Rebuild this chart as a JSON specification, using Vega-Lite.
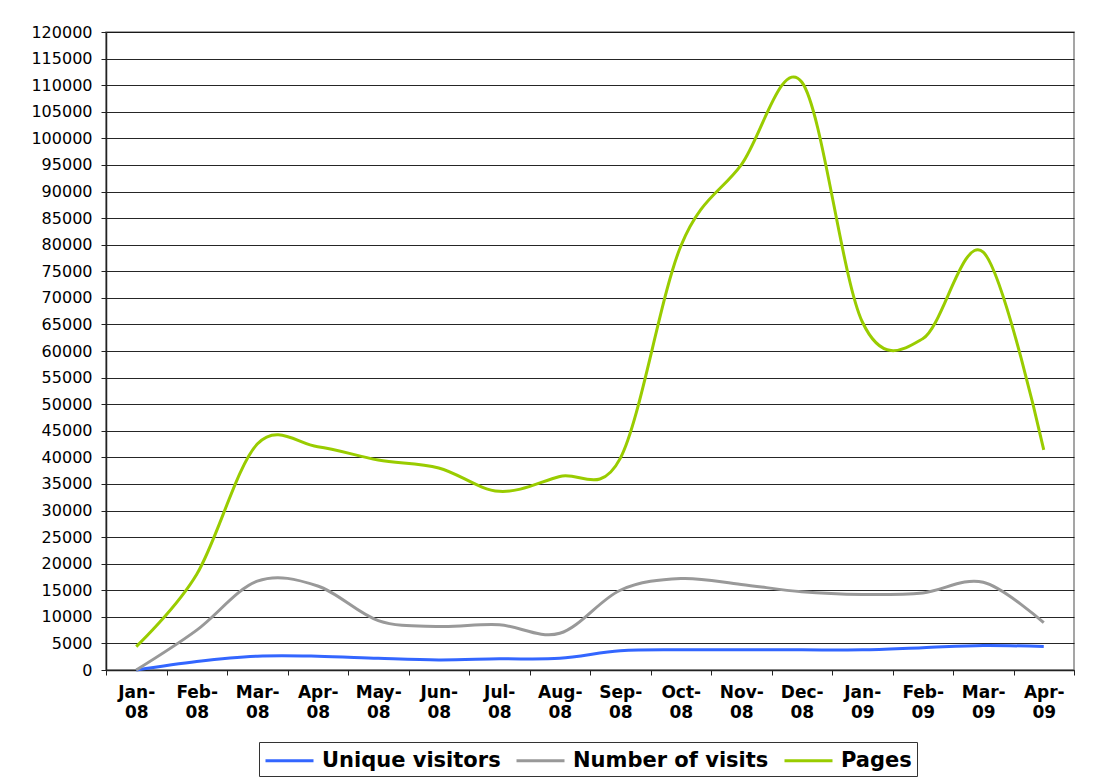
{
  "$schema": "https://vega.github.io/schema/vega-lite/v6.json",
  "width": 968,
  "height": 638,
  "autosize": "none",
  "padding": {"left": 106, "top": 32, "right": 34, "bottom": 112},
  "background": "white",
  "data": {
    "values": [
      {"month": "Jan-08", "series": "Unique visitors", "value": 0},
      {"month": "Feb-08", "series": "Unique visitors", "value": 1600},
      {"month": "Mar-08", "series": "Unique visitors", "value": 2600},
      {"month": "Apr-08", "series": "Unique visitors", "value": 2600},
      {"month": "May-08", "series": "Unique visitors", "value": 2200},
      {"month": "Jun-08", "series": "Unique visitors", "value": 1900},
      {"month": "Jul-08", "series": "Unique visitors", "value": 2100},
      {"month": "Aug-08", "series": "Unique visitors", "value": 2200},
      {"month": "Sep-08", "series": "Unique visitors", "value": 3600},
      {"month": "Oct-08", "series": "Unique visitors", "value": 3800},
      {"month": "Nov-08", "series": "Unique visitors", "value": 3800},
      {"month": "Dec-08", "series": "Unique visitors", "value": 3800},
      {"month": "Jan-09", "series": "Unique visitors", "value": 3800},
      {"month": "Feb-09", "series": "Unique visitors", "value": 4200},
      {"month": "Mar-09", "series": "Unique visitors", "value": 4600},
      {"month": "Apr-09", "series": "Unique visitors", "value": 4400},
      {"month": "Jan-08", "series": "Number of visits", "value": 0},
      {"month": "Feb-08", "series": "Number of visits", "value": 7500},
      {"month": "Mar-08", "series": "Number of visits", "value": 16700},
      {"month": "Apr-08", "series": "Number of visits", "value": 15800},
      {"month": "May-08", "series": "Number of visits", "value": 9300},
      {"month": "Jun-08", "series": "Number of visits", "value": 8200},
      {"month": "Jul-08", "series": "Number of visits", "value": 8500},
      {"month": "Aug-08", "series": "Number of visits", "value": 6900},
      {"month": "Sep-08", "series": "Number of visits", "value": 15000},
      {"month": "Oct-08", "series": "Number of visits", "value": 17200},
      {"month": "Nov-08", "series": "Number of visits", "value": 16100},
      {"month": "Dec-08", "series": "Number of visits", "value": 14700},
      {"month": "Jan-09", "series": "Number of visits", "value": 14200},
      {"month": "Feb-09", "series": "Number of visits", "value": 14500},
      {"month": "Mar-09", "series": "Number of visits", "value": 16500},
      {"month": "Apr-09", "series": "Number of visits", "value": 8900},
      {"month": "Jan-08", "series": "Pages", "value": 4400},
      {"month": "Feb-08", "series": "Pages", "value": 18000},
      {"month": "Mar-08", "series": "Pages", "value": 42500},
      {"month": "Apr-08", "series": "Pages", "value": 42000},
      {"month": "May-08", "series": "Pages", "value": 39500},
      {"month": "Jun-08", "series": "Pages", "value": 38000},
      {"month": "Jul-08", "series": "Pages", "value": 33600},
      {"month": "Aug-08", "series": "Pages", "value": 36400},
      {"month": "Sep-08", "series": "Pages", "value": 39800},
      {"month": "Oct-08", "series": "Pages", "value": 79700},
      {"month": "Nov-08", "series": "Pages", "value": 95000},
      {"month": "Dec-08", "series": "Pages", "value": 110600},
      {"month": "Jan-09", "series": "Pages", "value": 65500},
      {"month": "Feb-09", "series": "Pages", "value": 62300},
      {"month": "Mar-09", "series": "Pages", "value": 78600},
      {"month": "Apr-09", "series": "Pages", "value": 41400}
    ]
  },
  "mark": {"type": "line", "interpolate": "cardinal", "tension": 0, "strokeWidth": 3},
  "encoding": {
    "x": {
      "field": "month",
      "type": "ordinal",
      "sort": null,
      "bandPosition": 0.5,
      "scale": {"type": "band", "paddingInner": 0, "paddingOuter": 0},
      "axis": {
        "title": null,
        "labelAngle": 0,
        "tickBand": "extent",
        "tickSize": 5,
        "tickColor": "#222",
        "domainColor": "#222",
        "domainWidth": 1.5,
        "labelPadding": 9,
        "labelFont": "DejaVu Sans",
        "labelFontSize": 17,
        "labelFontWeight": "bold",
        "labelColor": "#000",
        "labelLineHeight": 20,
        "labelExpr": "[slice(datum.label, 0, 4), slice(datum.label, 4)]"
      }
    },
    "y": {
      "field": "value",
      "type": "quantitative",
      "scale": {"domain": [0, 120000], "nice": false, "zero": true},
      "axis": {
        "title": null,
        "values": [0, 5000, 10000, 15000, 20000, 25000, 30000, 35000, 40000, 45000, 50000, 55000, 60000, 65000, 70000, 75000, 80000, 85000, 90000, 95000, 100000, 105000, 110000, 115000, 120000],
        "format": "d",
        "grid": true,
        "gridColor": "#000",
        "gridOpacity": 0.85,
        "gridWidth": 1,
        "tickSize": 5,
        "tickColor": "#222",
        "domainColor": "#222",
        "domainWidth": 1.5,
        "labelPadding": 9,
        "labelFont": "DejaVu Sans",
        "labelFontSize": 16,
        "labelColor": "#000"
      }
    },
    "color": {
      "field": "series",
      "type": "nominal",
      "scale": {
        "domain": ["Unique visitors", "Number of visits", "Pages"],
        "range": ["#3366FF", "#999999", "#99CC00"]
      },
      "legend": {
        "title": null,
        "orient": "none",
        "direction": "horizontal",
        "legendX": 153,
        "legendY": 710,
        "symbolType": "M-1,0H3",
        "symbolStrokeWidth": 3,
        "symbolSize": 576,
        "labelFont": "DejaVu Sans",
        "labelFontSize": 21,
        "labelFontWeight": "bold",
        "labelColor": "#000",
        "labelLimit": 400,
        "labelOffset": 31,
        "columnPadding": 9,
        "padding": 5,
        "strokeColor": "#333",
        "fillColor": "white"
      }
    }
  },
  "config": {
    "view": {"stroke": "#888", "strokeWidth": 1.5}
  }
}
